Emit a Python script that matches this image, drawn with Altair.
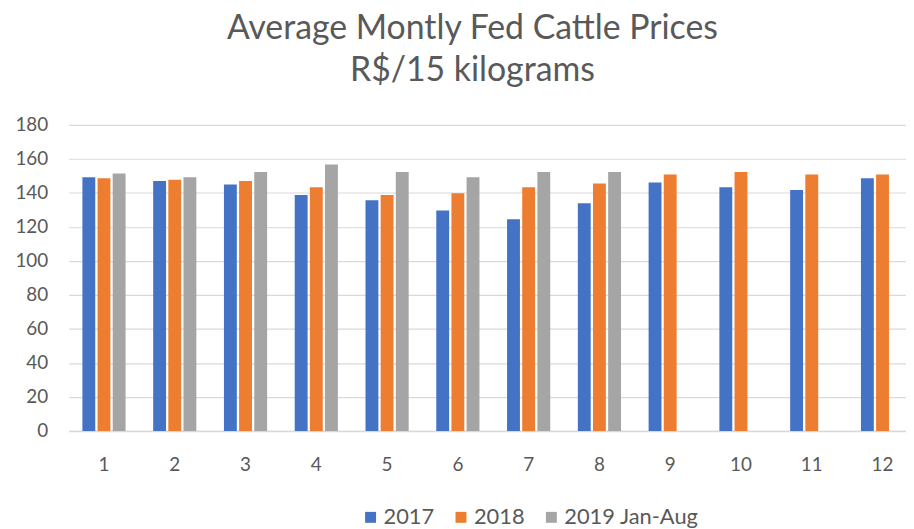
import altair as alt
import pandas as pd

months = list(range(1, 13))
series = ["2017", "2018", "2019 Jan-Aug"]
colors = ["#4472C4", "#ED7D31", "#A5A5A5"]
v2017 = [149.2, 147.0, 144.9, 138.8, 135.7, 129.7, 124.6, 133.9, 146.2, 143.3, 141.8, 148.6]
v2018 = [148.6, 147.8, 147.0, 143.3, 138.8, 139.8, 143.3, 145.6, 150.9, 152.3, 150.9, 150.9]
v2019 = [151.5, 149.2, 152.3, 156.8, 152.3, 149.2, 152.3, 152.3]
y_ticks = list(range(0, 181, 20))

rows = []
for s, vals in zip(series, [v2017, v2018, v2019]):
    for m, v in zip(months, vals):
        rows.append({"month": m, "series": s, "price": v})
df = pd.DataFrame(rows)

FONT = "Lato"
TXT = "#595959"

chart = alt.Chart(df).mark_bar().encode(
    x=alt.X("month:O", title=None,
            scale=alt.Scale(range=[0, 855], paddingInner=0.39, paddingOuter=0.195),
            axis=alt.Axis(labelAngle=0, labelFontSize=19, labelFont=FONT, labelColor=TXT,
                          ticks=False, tickSize=0, labelPadding=25, domainColor="#d9d9d9",
                          domainWidth=1.5, grid=False)),
    xOffset=alt.XOffset("series:N", scale=alt.Scale(domain=series, paddingInner=0.15)),
    y=alt.Y("price:Q", title=None,
            scale=alt.Scale(domain=[0, 180], nice=False),
            axis=alt.Axis(values=y_ticks, labelFontSize=19, labelFont=FONT, labelColor=TXT,
                          ticks=False, tickSize=0, labelPadding=21, domain=False,
                          gridColor="#d9d9d9", gridWidth=1.2)),
    color=alt.Color("series:N", title=None,
                    scale=alt.Scale(domain=series, range=colors),
                    legend=alt.Legend(orient="none", direction="horizontal", legendX=293, legendY=384,
                                      symbolType="square", symbolSize=121, symbolStrokeWidth=0,
                                      labelFontSize=22, labelFont=FONT, labelColor=TXT,
                                      labelOffset=2, columnPadding=15)),
).properties(
    width=843,
    height=308,
    title=alt.TitleParams("Average Montly Fed Cattle Prices",
                          subtitle="R$/15 kilograms",
                          fontSize=34, font=FONT, color=TXT, fontWeight="normal",
                          subtitleFontSize=34, subtitleFont=FONT, subtitleColor=TXT,
                          subtitleFontWeight="normal", subtitlePadding=9,
                          anchor="middle", dx=-15, offset=28),
    autosize=alt.AutoSizeParams(type="none"),
    padding={"left": 61, "top": 116, "right": 0, "bottom": 97},
).configure_view(stroke=None)

chart.save("out.html", embed_options={"renderer": "svg", "actions": False})
